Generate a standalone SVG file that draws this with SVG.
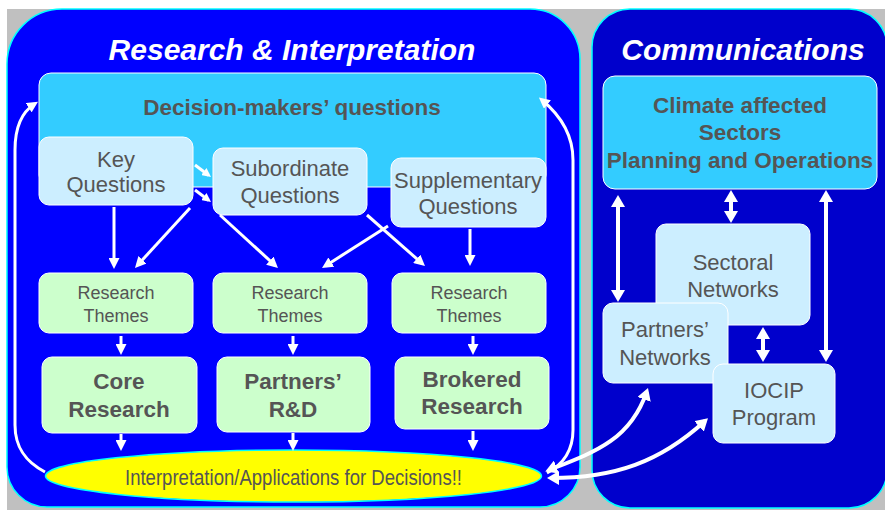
<svg xmlns="http://www.w3.org/2000/svg" width="885" height="510" viewBox="0 0 885 510">
<style>
.t{font-family:"Liberation Sans",Arial,sans-serif;fill:#555;text-anchor:middle;font-size:22px}
.b{font-weight:bold;font-size:22.5px}
.rt{font-size:18px}
.title{font-family:"Liberation Sans",Arial,sans-serif;font-weight:bold;font-style:italic;fill:#fff;font-size:30px;text-anchor:middle}
.q{fill:#cceeff;stroke:#fff;stroke-width:1}
.g{fill:#ccffcc;stroke:#fff;stroke-width:1}
.c{fill:#33ccff;stroke:#fff;stroke-width:1}
.a{fill:none;stroke:#fff;stroke-width:3;marker-end:url(#ah)}
.s{fill:none;stroke:#fff;stroke-width:3;marker-end:url(#ahs)}
.d{fill:none;stroke:#fff;stroke-width:4;marker-start:url(#ahb);marker-end:url(#ahb)}
</style>
<defs>
<marker id="ah" viewBox="0 0 11 11" markerUnits="userSpaceOnUse" markerWidth="11" markerHeight="11" refX="7" refY="5.5" orient="auto"><path d="M0,0 L11,5.5 L0,11 z" fill="#fff"/></marker>
<marker id="ahs" viewBox="0 0 9 9" markerUnits="userSpaceOnUse" markerWidth="9" markerHeight="9" refX="6" refY="4.5" orient="auto"><path d="M0,0 L9,4.5 L0,9 z" fill="#fff"/></marker>
<marker id="ahb" viewBox="0 0 12 14" markerUnits="userSpaceOnUse" markerWidth="12" markerHeight="14" refX="8" refY="7" orient="auto-start-reverse"><path d="M0,0 L12,7 L0,14 z" fill="#fff"/></marker>
</defs>
<rect x="0" y="0" width="885" height="510" fill="#fff"/>
<rect x="7" y="9" width="878" height="501" fill="#c0c0c0"/>
<g id="panel-research">
<path d="M62,9 H530 A50,50 0 0 1 580,59 V467 A40,40 0 0 1 540,507 H47 A40,40 0 0 1 7,467 V64 A55,55 0 0 1 62,9 Z" fill="#0000ff" stroke="#00ffff" stroke-width="1.5"/>
<text class="title" x="292" y="60">Research &amp; Interpretation</text>
</g>
<g id="panel-communications">
<rect x="592" y="9" width="295" height="499" rx="38" ry="38" fill="#0000cc" stroke="#00ffff" stroke-width="1.5"/>
<text class="title" x="743" y="60">Communications</text>
</g>
<g id="decision-makers">
<rect class="c" x="39" y="73" width="507" height="114" rx="12"/>
<text class="t b" x="292" y="115">Decision-makers’ questions</text>
</g>
<g id="key-questions">
<rect class="q" x="39" y="137" width="154" height="68" rx="10"/>
<text class="t" x="116" y="167">Key</text>
<text class="t" x="116" y="192">Questions</text>
</g>
<g id="subordinate-questions">
<rect class="q" x="213" y="148" width="154" height="67" rx="10"/>
<text class="t" x="290" y="176">Subordinate</text>
<text class="t" x="290" y="203">Questions</text>
</g>
<g id="supplementary-questions">
<rect class="q" x="391" y="158" width="155" height="69" rx="10"/>
<text class="t" x="468" y="188">Supplementary</text>
<text class="t" x="468" y="214">Questions</text>
</g>
<g id="themes-1">
<rect class="g" x="39" y="273" width="154" height="60" rx="10"/>
<text class="t rt" x="116" y="299">Research</text>
<text class="t rt" x="116" y="322">Themes</text>
</g>
<g id="themes-2">
<rect class="g" x="213" y="273" width="154" height="60" rx="10"/>
<text class="t rt" x="290" y="299">Research</text>
<text class="t rt" x="290" y="322">Themes</text>
</g>
<g id="themes-3">
<rect class="g" x="392" y="273" width="154" height="60" rx="10"/>
<text class="t rt" x="469" y="299">Research</text>
<text class="t rt" x="469" y="322">Themes</text>
</g>
<g id="core-research">
<rect class="g" x="42" y="357" width="155" height="76" rx="10"/>
<text class="t b" x="119" y="389">Core</text>
<text class="t b" x="119" y="417">Research</text>
</g>
<g id="partners-rd">
<rect class="g" x="217" y="357" width="153" height="75" rx="10"/>
<text class="t b" x="293" y="389">Partners’</text>
<text class="t b" x="293" y="417">R&amp;D</text>
</g>
<g id="brokered-research">
<rect class="g" x="395" y="357" width="154" height="72" rx="10"/>
<text class="t b" x="472" y="387">Brokered</text>
<text class="t b" x="472" y="414">Research</text>
</g>
<g id="interpretation">
<ellipse cx="293.5" cy="476" rx="248" ry="26" fill="#ffff00" stroke="#00ffff" stroke-width="1.5"/>
<text class="t" x="293.5" y="485" font-size="20" textLength="337" lengthAdjust="spacingAndGlyphs">Interpretation/Applications for Decisions!!</text>
</g>
<g id="climate-sectors">
<rect class="c" x="603" y="76" width="274" height="113" rx="12"/>
<text class="t b" x="740" y="113">Climate affected</text>
<text class="t b" x="740" y="140">Sectors</text>
<text class="t b" x="740" y="168">Planning and Operations</text>
</g>
<g id="sectoral-networks">
<rect class="q" x="656" y="224" width="154" height="101" rx="10"/>
<text class="t" x="733" y="270">Sectoral</text>
<text class="t" x="733" y="297">Networks</text>
</g>
<g id="partners-networks">
<rect class="q" x="603" y="303" width="125" height="80" rx="10"/>
<text class="t" x="665" y="337">Partners’</text>
<text class="t" x="665" y="365">Networks</text>
</g>
<g id="iocip-program">
<rect class="q" x="713" y="364" width="122" height="79" rx="10"/>
<text class="t" x="774" y="398">IOCIP</text>
<text class="t" x="774" y="425">Program</text>
</g>
<g id="connectors">
<path class="s" d="M195,165 L208.6,175.2"/>
<path class="s" d="M195,190 L208.6,200.2"/>
<path class="a" d="M114,207 L114,265"/>
<path class="a" d="M190,208 L137.7,265"/>
<path class="a" d="M220,215 L275,265.3"/>
<path class="a" d="M388,226 L325.4,265.9"/>
<path class="a" d="M367,215 L422,263.4"/>
<path class="a" d="M470,229 L470,262"/>
<path class="a" d="M121,336 L121,351"/>
<path class="a" d="M293,336 L293,351"/>
<path class="a" d="M473,336 L473,351"/>
<path class="a" d="M121,434 L121,447"/>
<path class="a" d="M293,433 L293,447"/>
<path class="a" d="M473,431 L473,447"/>
<path class="a" d="M45,472 C26,462 15,448 15,425 L15,150 C15,128 22,112 34.6,104"/>
<path class="a" d="M547,473 C562,465 573,452 573,430 L573,160 C573,135 560,115 542,100"/>
<path class="d" d="M549,470 C595,452 630,440 646.7,391.8"/>
<path class="d" d="M551,478 C615,478 660,462 705,421"/>
<path class="d" d="M618,199 L618,298"/>
<path class="d" d="M731,194 L731,219"/>
<path class="d" d="M826,194 L826,358"/>
<path class="d" d="M763,331 L763,358"/>
</g>
</svg>
